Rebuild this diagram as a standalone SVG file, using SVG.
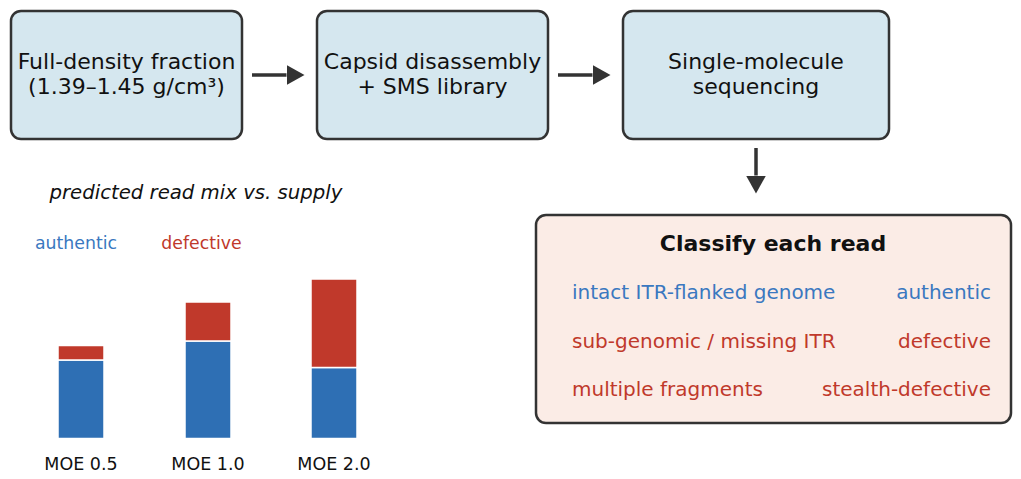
<svg xmlns="http://www.w3.org/2000/svg" width="1021" height="479" viewBox="0 0 1021 479">
<defs>
<marker id="ah" markerWidth="18" markerHeight="20" refX="0" refY="10" orient="auto" markerUnits="userSpaceOnUse" viewBox="0 0 18 20"><path d="M0,0 L18,10 L0,20 Z" fill="#333"/></marker>
</defs>
<style>
text{font-family:"DejaVu Sans",sans-serif;}
.box{fill:#d5e7ef;stroke:#333;stroke-width:2.5;}
.cls{fill:#fbece6;stroke:#333;stroke-width:2.5;}
.bt{font-size:22px;fill:#111;text-anchor:middle;}
.conn{stroke:#333;stroke-width:3.5;fill:none;marker-end:url(#ah);}
.blue{fill:#2e6fb4;stroke:#fff;stroke-width:1.5;}
.red{fill:#c0392b;stroke:#fff;stroke-width:1.5;}
.tb{fill:#3a78c0;}
.tr{fill:#c0392b;}
.row{font-size:20px;}
.ax{font-size:17.5px;fill:#111;text-anchor:middle;}
</style>
<rect width="1021" height="479" fill="#fff"/>
<g id="n1"><rect class="box" x="11" y="11" width="231" height="128" rx="10"/>
<text class="bt" x="126.5" y="69">Full-density fraction</text><text class="bt" x="126.5" y="94">(1.39–1.45 g/cm³)</text></g>
<g id="n2"><rect class="box" x="317" y="11" width="231" height="128" rx="10"/>
<text class="bt" x="432.5" y="69">Capsid disassembly</text><text class="bt" x="432.5" y="94">+ SMS library</text></g>
<g id="n3"><rect class="box" x="623" y="11" width="266" height="128" rx="10"/>
<text class="bt" x="756" y="69">Single-molecule</text><text class="bt" x="756" y="94">sequencing</text></g>
<g id="connectors">
<line class="conn" x1="252" y1="75" x2="286.5" y2="75"/>
<line class="conn" x1="756" y1="148" x2="756" y2="175.5"/>
<line class="conn" x1="558" y1="75" x2="592.5" y2="75"/>
</g>
<g id="n4"><rect class="cls" x="536" y="215" width="475" height="208" rx="10"/>
<text x="773" y="251" font-size="22" font-weight="bold" text-anchor="middle" fill="#111">Classify each read</text>
<text class="row tb" x="572" y="299">intact ITR-flanked genome</text>
<text class="row tb" x="991" y="299" text-anchor="end">authentic</text>
<text class="row tr" x="572" y="348">sub-genomic / missing ITR</text>
<text class="row tr" x="991" y="348" text-anchor="end">defective</text>
<text class="row tr" x="572" y="396">multiple fragments</text>
<text class="row tr" x="991" y="396" text-anchor="end">stealth-defective</text>
</g>
<g id="chart">
<text x="196" y="199" font-size="19.7" font-style="italic" text-anchor="middle" fill="#111">predicted read mix vs. supply</text>
<text x="76" y="249" font-size="17.3" text-anchor="middle" class="tb">authentic</text>
<text x="201.5" y="249" font-size="17.3" text-anchor="middle" class="tr">defective</text>
<rect class="blue" x="58" y="360" width="46" height="78.5"/>
<rect class="red" x="58" y="345.5" width="46" height="14.5"/>
<rect class="blue" x="185" y="341" width="46" height="97.5"/>
<rect class="red" x="185" y="302" width="46" height="39"/>
<rect class="blue" x="311" y="367.5" width="46" height="71"/>
<rect class="red" x="311" y="279" width="46" height="88.5"/>
<text class="ax" x="81" y="470">MOE 0.5</text>
<text class="ax" x="208" y="470">MOE 1.0</text>
<text class="ax" x="334" y="470">MOE 2.0</text>
</g>
</svg>
